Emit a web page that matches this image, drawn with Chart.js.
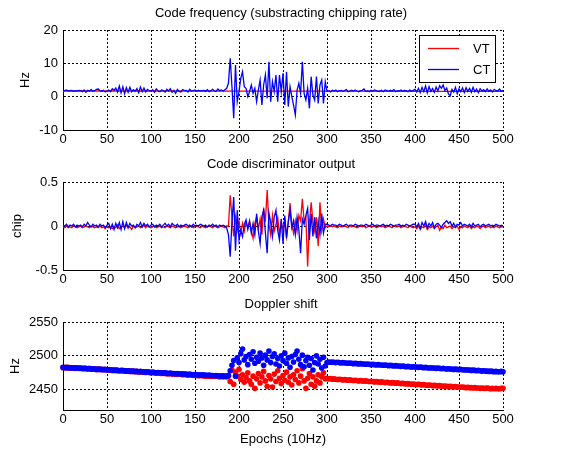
<!DOCTYPE html>
<html>
<head>
<meta charset="utf-8">
<script src="https://cdn.jsdelivr.net/npm/chart.js@4.4.1/dist/chart.umd.min.js"></script>
<style>
  html, body { margin: 0; padding: 0; background: #fff; }
  #fig { position: relative; width: 574px; height: 453px; background: #fff; overflow: hidden; }
  #fig canvas { position: absolute; left: 0; }
</style>
</head>
<body>
<div id="fig">
  <canvas id="freqChart" width="574" height="150" style="top:0px"></canvas>
  <canvas id="discChart" width="574" height="140" style="top:150px"></canvas>
  <canvas id="doppChart" width="574" height="163" style="top:290px"></canvas>
</div>
<script>
// samples are read every 2 epochs off the figure
const EPOCH_STEP = 2;
const epochs = Array.from({ length: 251 }, (_, i) => i * EPOCH_STEP);

// code frequency, VT is basically flat
const freqVTEpochs = [0, 100, 200, 300, 400, 500];
const freqVT = [1.7, 1.7, 1.65, 1.65, 1.6, 1.6];
const freqCT = [
  1.9,1.8,2.0,1.7,1.8,1.9,1.6,1.8,1.7,1.9,
  1.8,1.5,2.0,1.3,1.9,1.7,2.1,1.6,1.8,2.2,
  2.3,1.8,1.6,1.9,1.4,1.7,2.0,1.5,2.4,1.9,
  2.6,1.4,3.2,1.1,3.0,0.9,2.7,1.3,2.8,1.5,
  2.1,1.6,2.4,1.2,2.9,1.5,2.6,1.4,2.2,1.8,
  1.6,2.1,1.3,2.3,1.7,1.5,2.0,1.8,1.4,2.2,
  1.7,2.4,1.3,1.9,1.0,2.2,1.6,1.4,2.1,1.8,
  1.9,1.4,2.2,1.7,1.8,2.0,1.6,1.9,1.7,1.8,
  1.9,1.6,2.1,1.5,1.8,2.2,1.7,1.6,2.3,1.8,
  2.0,1.7,2.1,2.5,
  4.0,11.5,3.0,-6.5,9.5,-1.5,
  1.5,5.5,7.5,3.0,2.5,0.0,1.5,3.5,1.0,2.5,
  -1.5,2.0,5.0,-2.5,3.5,6.5,-0.5,10.5,-1.5,4.5,
  1.5,6.5,-1.5,6.5,1.5,7.0,-2.5,7.5,-3.0,3.0,
  0.0,-2.5,-5.5,2.0,4.0,1.0,10.5,1.0,-1.0,2.5,
  -3.5,6.0,0.5,-1.0,6.0,-2.0,3.5,5.0,-2.0,4.5,
  1.6,1.8,1.4,1.9,1.7,2.0,1.5,1.8,1.9,1.6,
  1.8,2.1,1.5,1.7,1.9,1.6,2.0,1.7,1.5,1.8,
  1.9,2.3,1.6,1.8,1.5,1.9,1.7,2.0,1.8,1.6,
  1.7,1.9,1.5,2.0,1.8,1.6,1.9,1.7,2.1,1.5,
  1.8,1.7,2.0,1.6,1.9,1.8,1.5,2.0,1.7,1.9,
  2.2,1.4,2.5,1.2,2.8,1.5,3.2,1.1,3.0,1.6,
  2.4,1.3,2.9,1.7,3.3,2.5,3.5,1.8,2.6,0.8,
  0.3,2.2,1.4,2.8,0.9,2.4,1.5,2.6,1.2,2.7,
  1.6,2.5,1.3,2.8,1.5,2.3,1.2,2.4,1.7,2.1,
  1.5,2.3,1.6,2.0,1.4,2.2,1.8,1.7,2.3,1.6,
  1.9
];

// code discriminator output (chip)
const discVT = [
  -0.01,-0.02,0.00,-0.02,-0.01,-0.02,0.00,-0.01,-0.02,-0.01,
  0.00,-0.02,-0.01,0.00,-0.01,-0.02,0.00,-0.01,-0.02,-0.01,
  -0.02,0.00,-0.02,-0.01,-0.03,0.00,-0.02,-0.01,-0.03,-0.01,
  -0.02,0.01,-0.03,-0.01,0.00,-0.02,0.01,-0.02,-0.01,-0.04,
  0.00,-0.02,-0.01,0.00,-0.02,-0.01,0.01,-0.02,0.00,-0.01,
  -0.02,-0.01,0.00,-0.02,-0.01,0.00,-0.02,-0.01,-0.02,0.00,
  -0.01,-0.02,0.00,-0.01,-0.02,-0.01,0.00,-0.02,-0.01,0.00,
  -0.01,-0.02,-0.01,0.00,-0.02,-0.01,0.00,-0.01,-0.02,0.00,
  -0.01,-0.02,-0.01,0.00,-0.01,-0.02,0.00,-0.01,-0.02,-0.01,
  0.00,-0.01,-0.02,0.00,
  0.00,0.35,0.10,-0.12,0.10,-0.05,
  0.06,-0.08,0.03,-0.06,0.04,-0.02,0.06,-0.05,-0.14,0.03,
  0.10,-0.04,0.08,-0.10,0.20,0.05,0.41,0.02,-0.10,0.12,
  -0.06,0.02,0.10,-0.10,0.05,-0.04,0.07,-0.12,0.04,0.26,
  0.02,-0.08,0.06,-0.06,0.12,0.06,0.31,0.05,0.10,-0.46,
  0.04,0.27,0.05,-0.06,0.10,-0.23,0.27,-0.05,0.08,-0.02,
  0.00,-0.01,0.00,-0.01,0.00,-0.01,-0.02,0.00,-0.01,-0.01,
  0.00,-0.01,-0.02,0.00,-0.01,0.00,-0.01,-0.02,-0.01,0.00,
  -0.01,0.00,-0.02,-0.01,0.00,-0.01,-0.01,0.00,-0.02,-0.01,
  0.00,-0.01,0.00,-0.02,-0.01,0.00,-0.01,-0.02,0.00,-0.01,
  -0.01,0.00,-0.02,-0.01,0.00,-0.01,-0.02,0.00,-0.01,-0.02,
  -0.01,-0.03,0.00,-0.04,-0.01,-0.02,0.01,-0.04,-0.01,-0.02,
  0.00,-0.03,-0.01,0.01,-0.05,-0.01,-0.03,0.01,-0.02,-0.01,
  0.00,-0.03,-0.01,-0.02,0.00,-0.04,-0.01,-0.02,0.00,-0.01,
  -0.02,0.00,-0.03,-0.01,-0.02,0.00,-0.01,-0.03,-0.01,0.00,
  -0.02,-0.01,0.00,-0.02,-0.01,-0.02,0.00,-0.01,-0.02,-0.01,
  -0.01
];
const discCT = [
  0.01,0.00,0.02,-0.01,0.01,0.00,0.02,-0.01,0.01,0.00,
  0.01,-0.01,0.02,0.00,0.04,0.01,-0.01,0.02,0.00,0.01,
  -0.01,0.02,0.00,0.01,-0.02,0.01,0.03,-0.03,0.02,-0.04,
  0.03,-0.02,0.04,-0.04,0.05,-0.03,0.04,-0.02,0.03,0.00,
  0.01,-0.02,0.02,0.00,0.04,-0.01,0.03,0.00,0.02,-0.01,
  0.01,0.02,-0.01,0.01,0.00,0.02,-0.01,0.01,0.03,0.00,
  0.02,-0.01,0.03,0.01,0.00,0.02,-0.01,0.01,0.00,0.01,
  0.02,0.00,0.01,-0.01,0.02,0.00,0.01,0.00,0.02,0.01,
  0.00,0.01,-0.01,0.01,0.00,0.02,0.00,0.01,-0.01,0.01,
  0.00,0.01,0.00,-0.02,
  -0.10,-0.35,0.05,0.33,-0.28,0.18,
  -0.16,-0.05,-0.12,0.02,0.07,-0.04,0.05,-0.08,0.03,-0.10,
  0.14,-0.06,-0.20,0.10,0.18,-0.08,-0.31,0.15,0.04,-0.12,
  0.10,0.18,-0.05,-0.16,0.08,-0.20,0.12,-0.14,0.05,0.18,
  -0.02,0.06,-0.10,0.10,-0.04,-0.31,0.08,0.02,0.12,0.20,
  -0.16,0.14,-0.12,0.10,-0.14,0.05,-0.10,0.14,-0.08,0.02,
  0.02,0.01,0.00,0.02,0.01,0.01,0.00,0.02,0.01,0.00,
  0.01,0.02,0.00,0.01,0.01,0.00,0.02,0.01,0.00,0.01,
  0.01,0.00,0.02,0.01,0.00,0.01,0.02,0.00,0.01,0.01,
  0.00,0.01,0.02,0.00,0.01,0.00,0.02,0.01,0.00,0.01,
  0.01,0.02,0.00,0.01,0.00,0.02,0.01,0.00,0.01,0.02,
  0.02,-0.01,0.03,-0.03,0.04,0.00,0.05,-0.02,0.03,0.00,
  0.04,-0.02,0.02,0.03,0.01,-0.02,0.02,0.04,0.06,0.03,
  0.05,0.00,0.03,-0.01,0.02,0.01,0.04,0.00,0.02,0.01,
  0.00,0.02,-0.01,0.03,0.00,0.01,0.02,-0.01,0.01,0.02,
  0.00,0.01,0.02,0.00,0.01,0.00,0.02,0.01,0.00,0.01,
  0.00
];

// doppler shift (Hz)
const doppVT = [
  2482.5,2483,2482,2483,2482.5,2482,2482.5,2481.5,2482,2482,
  2481.5,2481,2482,2481,2480.5,2481.5,2480.5,2480.5,2481,2480,
  2480,2480.5,2479.5,2480,2479.5,2479,2479.5,2479,2478.5,2479,
  2478.5,2478.5,2478,2478,2478.5,2477.5,2477.5,2478,2477,2477.5,
  2477,2476.5,2477,2476.5,2476,2476.5,2476,2475.5,2476,2475.5,
  2475,2475.5,2475,2474.5,2475,2474.5,2474,2474.5,2474,2473.5,
  2473.5,2474,2473,2473.5,2473,2472.5,2473,2472.5,2472,2472.5,
  2472,2471.5,2472,2471.5,2471,2471.5,2471,2470.5,2471,2470.5,
  2470.5,2470,2470.5,2470,2469.5,2470,2469.5,2470,2469.5,2469,
  2469.5,2469,2469.5,2469,
  2470,2462,2479,2458,2476,2470,
  2480,2465,2472,2461,2468,2475,2463,2458,2470,2452,
  2466,2474,2460,2469,2477,2463,2455,2471,2466,2454,
  2473,2462,2478,2467,2459,2471,2464,2476,2461,2469,
  2457,2472,2465,2478,2460,2470,2481,2463,2452,2467,
  2474,2458,2469,2455,2463,2472,2460,2469,2475,2466,
  2467,2466,2466.5,2465.5,2466,2465.5,2465,2465.5,2465,2464.5,
  2465,2464.5,2464,2464.5,2464,2463.5,2464,2463.5,2463,2463.5,
  2463,2462.5,2463,2462.5,2462,2462.5,2462,2461.5,2462,2461.5,
  2461,2461.5,2461,2460.5,2461,2460.5,2460,2460.5,2460,2459.5,
  2460,2459.5,2459,2459.5,2459,2458.5,2459,2458.5,2458,2458.5,
  2458,2457.5,2458,2457.5,2457,2457.5,2457,2456.5,2457,2456.5,
  2456,2456.5,2456,2455.5,2456,2455.5,2455,2455.5,2455,2454.5,
  2455,2454.5,2454,2454.5,2454,2454,2453.5,2454,2453.5,2453,
  2453.5,2453,2453,2452.5,2453,2452.5,2452.5,2452,2452.5,2452,
  2452,2452.5,2452,2451.5,2452,2451.5,2452,2451.5,2451.5,2452,
  2452
];
const doppCT = [
  2483,2482.5,2483,2482.5,2482,2482.5,2482,2482.5,2482,2481.5,
  2482,2481.5,2481,2481.5,2481,2481,2480.5,2481,2480.5,2480,
  2480.5,2480,2480,2479.5,2480,2479.5,2479,2479.5,2479,2478.5,
  2479,2478.5,2478,2478.5,2478,2478,2477.5,2478,2477.5,2477,
  2477.5,2477,2477,2476.5,2477,2476.5,2476,2476.5,2476,2476,
  2475.5,2476,2475.5,2475,2475.5,2475,2475,2474.5,2475,2474.5,
  2474,2474.5,2474,2474,2473.5,2474,2473.5,2473,2473.5,2473,
  2473,2472.5,2473,2472.5,2472,2472.5,2472,2472,2471.5,2472,
  2471.5,2471.5,2471,2471.5,2471,2471,2470.5,2471,2470.5,2470.5,
  2470,2470.5,2470,2470,
  2471,2478,2486,2493,2470,2497,
  2490,2503,2510,2494,2499,2487,2502,2495,2506,2489,
  2498,2492,2504,2497,2486,2501,2494,2507,2490,2499,
  2503,2488,2496,2485,2500,2493,2504,2489,2497,2483,
  2499,2491,2502,2507,2495,2487,2501,2484,2493,2498,
  2486,2496,2479,2490,2500,2488,2495,2482,2498,2485,
  2490,2491,2490.5,2491,2490.5,2490,2490.5,2490,2489.5,2490,
  2489.5,2489.5,2489,2489.5,2489,2488.5,2489,2488.5,2488,2488.5,
  2488,2488,2487.5,2488,2487.5,2487,2487.5,2487,2486.5,2487,
  2486.5,2486.5,2486,2486.5,2486,2485.5,2486,2485.5,2485,2485.5,
  2485,2485,2484.5,2485,2484.5,2484,2484.5,2484,2483.5,2484,
  2483.5,2483.5,2483,2483.5,2483,2482.5,2483,2482.5,2482,2482.5,
  2482,2482,2481.5,2482,2481.5,2481,2481.5,2481,2480.5,2481,
  2480.5,2480.5,2480,2480.5,2480,2479.5,2480,2479.5,2479,2479.5,
  2479,2479,2478.5,2479,2478.5,2478,2478.5,2478,2477.5,2478,
  2477.5,2477.5,2477,2477.5,2477,2476.5,2477,2476.5,2476.5,2477,
  2476.5
];

const FONT = '"Liberation Sans", Arial, Helvetica, sans-serif';
const RED = '#ff0000';
const BLUE = '#0000ff';

const toPoints = (values, xs = epochs) => values.map((y, i) => ({ x: xs[i], y }));

// titles / axis labels drawn by hand so the plot boxes stay put
const axisText = {
  id: 'axisText',
  afterDraw(chart, args, opts) {
    const { ctx, chartArea } = chart;
    const cx = (chartArea.left + chartArea.right) / 2;
    ctx.save();
    ctx.fillStyle = '#000';
    ctx.font = '13px ' + FONT;
    ctx.textAlign = 'center';
    ctx.textBaseline = 'alphabetic';
    ctx.fillText(opts.title, cx - 2, opts.titleY);
    if (opts.xlabel) ctx.fillText(opts.xlabel, cx, opts.xlabelY);
    ctx.translate(opts.ylabelX, (chartArea.top + chartArea.bottom) / 2);
    ctx.rotate(-Math.PI / 2);
    ctx.textBaseline = 'middle';
    ctx.fillText(opts.ylabel, 0, 0);
    ctx.restore();
  }
};

// matlab-ish boxed legend, top right of the first axes
const boxLegend = {
  id: 'boxLegend',
  afterDraw(chart, args, opts) {
    if (!opts.show) return;
    const { ctx } = chart;
    const entries = chart.data.datasets.slice().sort((a, b) => a.legendIndex - b.legendIndex);
    ctx.save();
    ctx.fillStyle = '#fff';
    ctx.fillRect(419, 35, 76, 47);
    ctx.strokeStyle = '#000';
    ctx.lineWidth = 1;
    ctx.strokeRect(419.5, 35.5, 76, 47);
    ctx.font = '13px ' + FONT;
    ctx.textBaseline = 'middle';
    entries.forEach((ds, i) => {
      const y = 48 + i * 21;
      ctx.strokeStyle = ds.borderColor;
      ctx.lineWidth = 1.3;
      ctx.beginPath();
      ctx.moveTo(428, y + 0.5);
      ctx.lineTo(459, y + 0.5);
      ctx.stroke();
      ctx.fillStyle = '#000';
      ctx.fillText(ds.label, 473, y + 1);
    });
    ctx.restore();
  }
};

Chart.register(axisText, boxLegend);

const xAxis = (extra) => ({
  type: 'linear',
  min: 0,
  max: 500,
  ticks: { stepSize: 50, color: '#000', font: { family: FONT, size: 13 }, padding: 2, maxRotation: 0, autoSkip: false, callback: v => String(v) },
  grid: { color: '#000', lineWidth: 1, drawTicks: false },
  border: { display: true, color: '#000', width: 1, dash: [2, 2] },
  afterFit: s => { s.height = 20; },
  ...extra
});

const yAxis = (min, max, step, fixedTicks) => ({
  type: 'linear',
  min, max,
  ticks: { stepSize: step, color: '#000', font: { family: FONT, size: 13 }, padding: 5, callback: v => String(v) },
  grid: { color: '#000', lineWidth: 1, drawTicks: false },
  border: { display: true, color: '#000', width: 1, dash: [2, 2] },
  afterFit: s => { s.width = 63; },
  afterBuildTicks: s => { if (fixedTicks) s.ticks = fixedTicks.map(value => ({ value })); }
});

const baseOptions = (padTop, padBottom, text, legend) => ({
  responsive: false,
  animation: false,
  devicePixelRatio: 1,
  layout: { padding: { left: 0, right: 71, top: padTop, bottom: padBottom } },
  plugins: {
    legend: { display: false },
    tooltip: { enabled: false },
    title: { display: false },
    axisText: text,
    boxLegend: { show: !!legend }
  }
});

// 1) code frequency
new Chart(document.getElementById('freqChart'), {
  type: 'line',
  data: {
    datasets: [
      { label: 'CT', legendIndex: 1, order: 0, data: toPoints(freqCT), borderColor: BLUE, borderWidth: 1.3, pointRadius: 0, tension: 0 },
      { label: 'VT', legendIndex: 0, order: 1, data: toPoints(freqVT, freqVTEpochs), borderColor: RED, borderWidth: 1.3, pointRadius: 0, tension: 0 }
    ]
  },
  options: {
    ...baseOptions(30, 0, { title: 'Code frequency (substracting chipping rate)', titleY: 17, ylabel: 'Hz', ylabelX: 25 }, true),
    scales: { x: xAxis(), y: yAxis(-10, 20, 10) }
  }
});

// 2) code discriminator
new Chart(document.getElementById('discChart'), {
  type: 'line',
  data: {
    datasets: [
      { label: 'CT', order: 0, data: toPoints(discCT), borderColor: BLUE, borderWidth: 1.3, pointRadius: 0, tension: 0 },
      { label: 'VT', order: 1, data: toPoints(discVT), borderColor: RED, borderWidth: 1.3, pointRadius: 0, tension: 0 }
    ]
  },
  options: {
    ...baseOptions(32, 0, { title: 'Code discriminator output', titleY: 18, ylabel: 'chip', ylabelX: 17 }),
    scales: { x: xAxis(), y: yAxis(-0.5, 0.5, 0.5) }
  }
});

// 3) doppler shift
new Chart(document.getElementById('doppChart'), {
  type: 'scatter',
  data: {
    datasets: [
      { label: 'CT', order: 0, data: toPoints(doppCT), backgroundColor: BLUE, borderWidth: 0, pointRadius: 2.8, clip: false },
      { label: 'VT', order: 1, data: toPoints(doppVT), backgroundColor: RED, borderWidth: 0, pointRadius: 2.8, clip: false }
    ]
  },
  options: {
    ...baseOptions(32, 23, { title: 'Doppler shift', titleY: 18, ylabel: 'Hz', ylabelX: 15, xlabel: 'Epochs (10Hz)', xlabelY: 153 }),
    scales: { x: xAxis(), y: yAxis(2420, 2550, 50, [2450, 2500, 2550]) }
  }
});
</script>
</body>
</html>
